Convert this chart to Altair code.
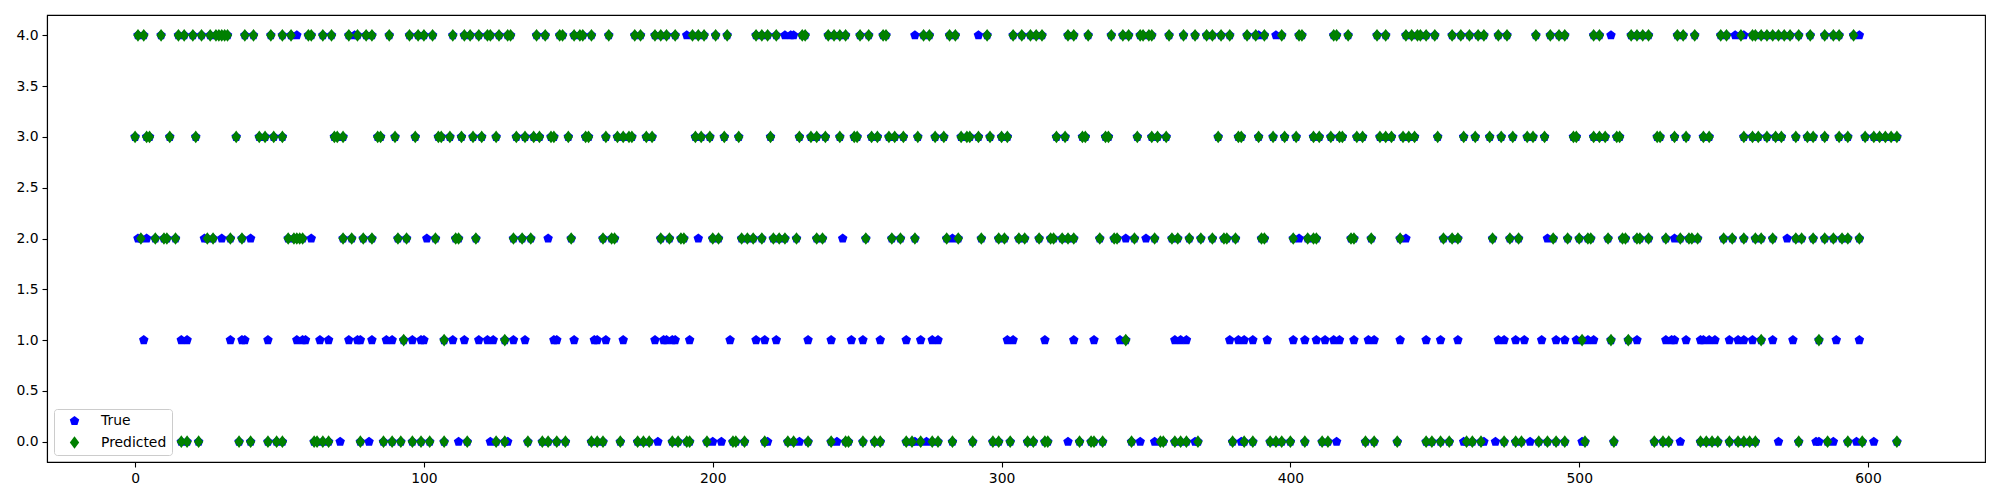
import altair as alt
import pandas as pd

# ---- data: sample index per class level ----
pred_4 = [1, 3, 9, 15, 17, 20, 23, 26, 28, 29, 30, 31, 32, 38, 41, 47, 51,
          54, 60, 61, 65, 68, 74, 77, 80, 82, 88, 95, 98, 100, 103,
          110, 114, 116, 119, 122, 123, 126, 129, 130, 139, 142, 147, 148, 152, 154, 155, 158,
          164, 173, 175, 180, 182, 184, 187, 193, 195, 197, 201, 205, 215, 217,
          219, 222, 231, 232, 240, 242, 244, 246, 251, 254, 259, 260, 273,
          275, 282, 284, 295, 304, 307, 310, 312, 314, 323, 325,
          330, 338, 342, 344, 348, 349, 351, 352, 358, 363, 367, 371, 373, 376, 379,
          385, 388, 391, 397, 403, 404, 415, 416, 420, 430, 433, 440,
          442, 444, 445, 447, 450, 456, 459, 462, 465, 467, 472, 475, 485, 490, 493, 495,
          505, 507, 518, 520, 522, 524, 534, 536, 540, 549, 551, 556,
          560, 561, 563, 565, 567, 569, 571, 573, 576, 580, 585, 588, 590, 595]
pred_3 = [0, 4, 5, 12, 21, 35, 43, 45, 48, 51,
          69, 70, 72, 84, 85, 90, 97, 105, 106,
          109, 113, 117, 120, 125, 132, 135, 138, 140, 144, 145, 150, 156, 157,
          163, 167, 169, 171, 172, 177, 179, 194, 196, 199, 204, 209,
          220, 230, 234, 236, 239, 244, 249, 250, 255, 257, 261, 263, 266, 271,
          277, 280, 286, 288, 289, 292, 296, 300, 302, 319, 322, 328,
          329, 336, 337, 347, 352, 354, 357, 375, 382, 383,
          389, 394, 398, 402, 408, 410, 414, 417, 418, 423, 425, 431, 433, 435, 439,
          441, 443, 451, 460, 464, 469, 473, 477, 482, 484, 488,
          498, 499, 505, 507, 509, 513, 514, 527, 528, 533, 537, 543, 545,
          557, 560, 562, 565, 568, 570, 575, 579, 581, 585, 590, 593,
          599, 602, 604, 606, 608, 610]
pred_2 = [2, 7, 10, 11, 14, 25, 27, 33, 37,
          53, 55, 56, 57, 58, 72, 75, 79, 82, 91, 94, 104,
          111, 112, 118, 131, 134, 137, 151, 162,
          165, 166, 182, 185, 189, 190, 200, 202, 210, 212, 214, 217,
          221, 223, 225, 229, 236, 238, 253, 262, 265, 270,
          281, 285, 293, 299, 301, 306, 308, 313, 317, 318, 321, 323, 325,
          334, 339, 340, 346, 353, 359, 361, 365, 369, 373, 377, 378, 381,
          390, 391, 401, 406, 408, 409, 421, 422, 428, 438,
          453, 456, 458, 470, 476, 479, 491, 496,
          500, 503, 504, 510, 515, 516, 520, 521, 524, 530, 535, 538, 539, 541, 550, 553,
          557, 561, 563, 567, 575, 577, 581, 585, 588, 591, 593, 597]
pred_1 = [93, 107, 128, 343, 501, 511, 517, 563, 583]
pred_0 = [16, 18, 22, 36, 40, 46, 49,
          51, 62, 63, 65, 67, 78, 86, 89, 92, 96, 99, 102, 107,
          115, 125, 128, 136, 141, 143, 146, 149, 158, 160, 162,
          168, 174, 176, 178, 186, 188, 191, 192, 198, 207, 208, 211, 218,
          226, 228, 233, 241, 246, 247, 252, 256, 258, 267, 269, 272,
          276, 278, 283, 290, 297, 299, 303, 309, 311, 315, 316, 327,
          331, 332, 335, 345, 355, 356, 360, 362, 364, 368, 380, 384,
          387, 393, 395, 397, 400, 405, 411, 413, 426, 429, 437,
          447, 449, 452, 455, 461, 463, 466, 474, 478, 480, 486, 489, 492, 495,
          502, 512, 526, 529, 531, 542, 544, 546, 548, 552, 555,
          557, 559, 561, 576, 586, 593, 598, 610]

# true labels where they differ from the prediction (visible blue markers)
true_4 = [56, 76, 191, 225, 227, 228, 270, 292, 389, 395, 511, 554, 557, 597]
true_3 = []
true_2 = [1, 4, 24, 30, 40, 61, 101, 143, 195, 245, 283, 343, 350, 403, 440, 489, 533, 572]
true_1 = [3, 16, 18, 33, 37, 38, 46, 56, 58, 59, 64, 67, 74, 77, 78, 82, 87, 89, 96, 99, 100,
          110, 114, 119, 122, 124, 131, 135, 145, 146, 152, 159, 160, 163, 169, 180, 183, 184,
          186, 187, 192, 206, 215, 218, 222, 233, 241, 248, 252, 258, 267, 272, 276, 278, 302,
          304, 315, 325, 332, 341, 360, 362, 364, 379, 382, 384, 387, 392, 401, 405, 409, 412,
          415, 417, 422, 427, 429, 438, 447, 452, 458, 472, 474, 478, 481, 487, 492, 495, 499,
          503, 505, 520, 530, 532, 533, 537, 542, 543, 545, 547, 552, 555,
          557, 560, 567, 574, 589, 597]
true_0 = [71, 81, 112, 123, 129, 181, 200, 203, 219, 230, 243, 270, 274, 323, 348, 353, 367,
          383, 416, 460, 467, 471, 483, 501, 535, 569, 582, 583, 588, 596, 602]

pred = {4: pred_4, 3: pred_3, 2: pred_2, 1: pred_1, 0: pred_0}
true_diff = {4: true_4, 3: true_3, 2: true_2, 1: true_1, 0: true_0}

rows = []
for lvl, idxs in true_diff.items():
    for i in idxs:
        rows.append({"idx": i, "label": lvl, "series": "True", "ord": 0})
for lvl, idxs in pred.items():  # true == predicted (hidden under green)
    for i in idxs:
        rows.append({"idx": i, "label": lvl, "series": "True", "ord": 0})
for lvl, idxs in pred.items():
    for i in idxs:
        rows.append({"idx": i, "label": lvl, "series": "Predicted", "ord": 1})
df = pd.DataFrame(rows)

pent = "M0,-1L0.951,-0.309L0.588,0.809L-0.588,0.809L-0.951,-0.309Z"
diam = "M0,-1L0.74,0L0,1L-0.74,0Z"
series = ["True", "Predicted"]

chart = alt.Chart(df).mark_point(filled=True, opacity=1, strokeWidth=0).encode(
    x=alt.X("idx:Q", scale=alt.Scale(domain=[-30.5, 640.5], nice=False, zero=False),
            axis=alt.Axis(values=[0, 100, 200, 300, 400, 500, 600], title=None, grid=False,
                          format="d")),
    y=alt.Y("label:Q", scale=alt.Scale(domain=[-0.2, 4.2], nice=False, zero=False),
            axis=alt.Axis(values=[0, 0.5, 1, 1.5, 2, 2.5, 3, 3.5, 4], format=".1f",
                          title=None, grid=False)),
    color=alt.Color("series:N", scale=alt.Scale(domain=series, range=["#0000ff", "#008000"]),
                    legend=alt.Legend(title=None)),
    shape=alt.Shape("series:N", scale=alt.Scale(domain=series, range=[pent, diam]),
                    legend=alt.Legend(title=None)),
    size=alt.Size("series:N", scale=alt.Scale(domain=series, range=[100, 160]),
                  legend=alt.Legend(title=None)),
    order=alt.Order("ord:Q"),
).properties(
    width=1938, height=447,
    autosize=alt.AutoSizeParams(type="none"),
    padding={"left": 39, "top": 7, "right": 5, "bottom": 30},
).configure_view(
    stroke="black", strokeWidth=1.1
).configure_axis(
    domainColor="black", domainWidth=1.1, tickColor="black", tickWidth=1.1, tickSize=5,
    labelFont="DejaVu Sans", labelFontSize=13.9, labelColor="black", labelPadding=4,
).configure_legend(
    orient="bottom-left", offset=7, padding=5, strokeColor="#cccccc",
    fillColor="rgba(255,255,255,0.8)", cornerRadius=3,
    labelFont="DejaVu Sans", labelFontSize=13.9, labelColor="black",
    rowPadding=7, symbolOffset=8, labelOffset=19,
)

chart.save("out.html", embed_options={"renderer": "svg", "actions": False})
